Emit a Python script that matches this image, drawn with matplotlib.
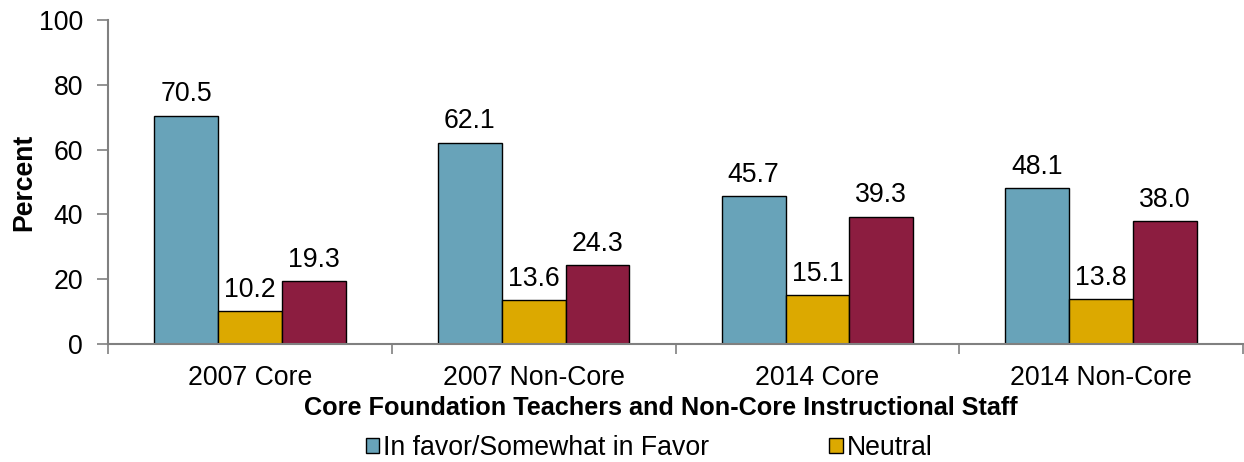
import numpy as np
import matplotlib.pyplot as plt
from matplotlib.patches import Patch

plt.rcParams['font.family'] = ['Liberation Sans', 'DejaVu Sans']

# ---- data ----
categories = ["2007 Core", "2007 Non-Core", "2014 Core", "2014 Non-Core"]
in_favor = [70.5, 62.1, 45.7, 48.1]
neutral = [10.2, 13.6, 15.1, 13.8]
against = [19.3, 24.3, 39.3, 38.0]
series_names = ["In favor/Somewhat in Favor", "Neutral", "Against/Somewhat Against"]
colors = ["#68A3B9", "#DCA900", "#8C1D40"]

fs = 19.2
fig = plt.figure(figsize=(12.44, 4.62), dpi=100)
ax = fig.add_axes([0.0868, 0.2554, 0.9125, 0.7013])

x = np.arange(len(categories))
w = 0.225
for i, vals in enumerate([in_favor, neutral, against]):
    pos = x + (i - 1) * w
    bars = ax.bar(pos, vals, w, color=colors[i], edgecolor="black", linewidth=1.0)
    for b, v in zip(bars, vals):
        ax.annotate(f"{v:.1f}", (b.get_x() + b.get_width() / 2, v),
                    xytext=(0, 6), textcoords="offset points",
                    ha="center", va="bottom", fontsize=fs)

ax.set_xlim(-0.5, len(categories) - 0.5)
ax.set_ylim(0, 100)
ax.set_yticks(np.arange(0, 101, 20))
ax.set_xticks(x)
ax.set_xticklabels(categories, fontsize=fs)
ax.set_xticks(np.arange(-0.5, len(categories), 1.0), minor=True)
ax.tick_params(axis="x", which="major", length=0, pad=15)
ax.tick_params(axis="x", which="minor", length=7, color="#808080", width=1.2, direction="out")
ax.tick_params(axis="y", length=8, color="#808080", width=1.2, labelsize=fs, pad=10)

for s in ["top", "right"]:
    ax.spines[s].set_visible(False)
for s in ["left", "bottom"]:
    ax.spines[s].set_color("#808080")
    ax.spines[s].set_linewidth(1.5)

ax.set_ylabel("Percent", fontsize=fs, fontweight="bold", labelpad=1)
fig.text(0.531, 0.117, "Core Foundation Teachers and Non-Core Instructional Staff",
         ha="center", va="center", fontsize=18.2, fontweight="bold")

handles = [Patch(facecolor=colors[0], edgecolor="black", linewidth=1.0),
           Patch(facecolor=colors[1], edgecolor="black", linewidth=1.0)]
fig.legend(handles, series_names[:2], loc="center left", bbox_to_anchor=(0.294, 0.031),
           ncol=2, frameon=False, fontsize=fs, handlelength=0.5, handleheight=0.5,
           handletextpad=0.15, columnspacing=4.5, borderpad=0, borderaxespad=0)

fig.savefig("out.png", dpi=100)
